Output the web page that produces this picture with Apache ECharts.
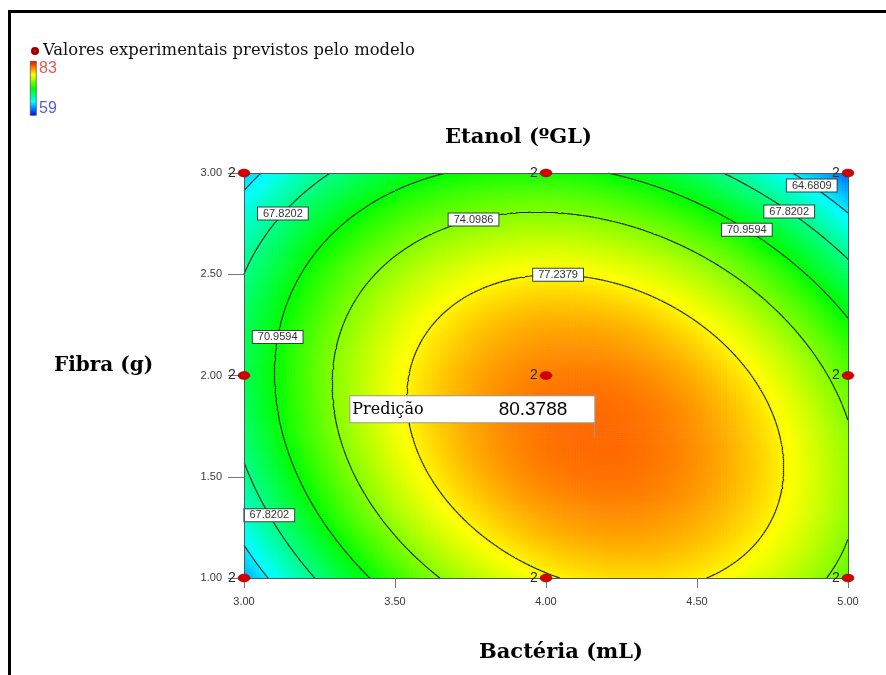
<!DOCTYPE html>
<html>
<head>
<meta charset="utf-8">
<script src="https://cdn.jsdelivr.net/npm/echarts@6/dist/echarts.min.js"></script>
<style>
  html, body { margin: 0; padding: 0; background: #fff; }
  #chart { width: 886px; height: 675px; }
</style>
</head>
<body>
<div id="chart"></div>
<script>
// Design levels: Bactéria (mL) on x, Fibra (g) on y, every run done twice
const bacteria = [3, 4, 5];
const fibra = [1, 2, 3];
const replicates = 2;

// Ethanol (ºGL) predicted by the model at each design point (rows follow fibra)
const etanolPrevisto = [
  [62.91, 77.02, 73.25],
  [69.05, 80.00, 73.07],
  [63.76, 71.57, 61.50]
];

// Contour levels drawn on the response surface
const contourLevels = [64.6809, 67.8202, 70.9594, 74.0986, 77.2379];

// Where each contour value is written: [level, bacteria, fibra], snapped onto its line
const contourTags = [
  [67.8202, 3.12, 2.81],
  [74.0986, 3.76, 2.79],
  [77.2379, 4.04, 2.52],
  [64.6809, 4.89, 2.95],
  [67.8202, 4.82, 2.84],
  [70.9594, 4.67, 2.74],
  [70.9594, 3.12, 2.19],
  [67.8202, 3.10, 1.33]
];

// Axis ticks
const xTicks = [3.00, 3.50, 4.00, 4.50, 5.00];
const yTicks = [1.00, 1.50, 2.00, 2.50, 3.00];

// Flagged prediction
const predictionPoint = [4.16, 1.69];
const predictionValue = 80.3788;

// Colour scale limits and palette (low -> high)
const colorRange = [59, 83];
const palette = ['#0000ff', '#00ffff', '#00ff00', '#ffff00', '#ff0000'];

const legendName = 'Valores experimentais previstos pelo modelo';

// ---------- design points ----------
const designPoints = [];
fibra.forEach((f, r) => bacteria.forEach((b, c) => designPoints.push([b, f, etanolPrevisto[r][c]])));

// ---------- full quadratic response surface fitted to the design points ----------
const xc = (bacteria[0] + bacteria[bacteria.length - 1]) / 2;
const yc = (fibra[0] + fibra[fibra.length - 1]) / 2;
function basis(x, y) {
  const a = x - xc, b = y - yc;
  return [1, a, b, a * b, a * a, b * b];
}
function fitSurface(points) {
  const n = 6;
  const M = Array.from({ length: n }, () => new Array(n + 1).fill(0));
  points.forEach(([x, y, z]) => {
    const f = basis(x, y);
    for (let i = 0; i < n; i++) {
      for (let j = 0; j < n; j++) M[i][j] += f[i] * f[j];
      M[i][n] += f[i] * z;
    }
  });
  for (let k = 0; k < n; k++) {
    let p = k;
    for (let i = k + 1; i < n; i++) if (Math.abs(M[i][k]) > Math.abs(M[p][k])) p = i;
    [M[k], M[p]] = [M[p], M[k]];
    for (let i = 0; i < n; i++) {
      if (i === k) continue;
      const t = M[i][k] / M[k][k];
      for (let j = k; j <= n; j++) M[i][j] -= t * M[k][j];
    }
  }
  return M.map((row, i) => row[n] / row[i]);
}
const coef = fitSurface(designPoints);
const surface = (x, y) => basis(x, y).reduce((s, f, i) => s + f * coef[i], 0);

// ---------- evaluation grid ----------
const xMin = xTicks[0], xMax = xTicks[xTicks.length - 1];
const yMin = yTicks[0], yMax = yTicks[yTicks.length - 1];
const NX = 200, NY = 200;
const dx = (xMax - xMin) / NX, dy = (yMax - yMin) / NY;

const cells = [];
for (let j = 0; j < NY; j++) {
  for (let i = 0; i < NX; i++) {
    const x = xMin + (i + 0.5) * dx, y = yMin + (j + 0.5) * dy;
    cells.push([x, y, surface(x, y)]);
  }
}
const node = [];
for (let j = 0; j <= NY; j++) {
  const row = [];
  for (let i = 0; i <= NX; i++) row.push(surface(xMin + i * dx, yMin + j * dy));
  node.push(row);
}

// ---------- marching squares ----------
function isoSegments(level) {
  const segs = [];
  const cross = (x0, y0, v0, x1, y1, v1) => {
    const t = (level - v0) / (v1 - v0);
    return [x0 + t * (x1 - x0), y0 + t * (y1 - y0)];
  };
  for (let j = 0; j < NY; j++) {
    for (let i = 0; i < NX; i++) {
      const x0 = xMin + i * dx, x1 = x0 + dx, y0 = yMin + j * dy, y1 = y0 + dy;
      const a = node[j][i], b = node[j][i + 1], c = node[j + 1][i + 1], d = node[j + 1][i];
      const pts = [];
      if ((a < level) !== (b < level)) pts.push(cross(x0, y0, a, x1, y0, b));
      if ((b < level) !== (c < level)) pts.push(cross(x1, y0, b, x1, y1, c));
      if ((d < level) !== (c < level)) pts.push(cross(x0, y1, d, x1, y1, c));
      if ((a < level) !== (d < level)) pts.push(cross(x0, y0, a, x0, y1, d));
      if (pts.length === 2) segs.push([pts[0], pts[1]]);
      else if (pts.length === 4) {
        const centre = (a + b + c + d) / 4;
        if ((centre < level) === (a < level)) segs.push([pts[0], pts[1]], [pts[2], pts[3]]);
        else segs.push([pts[0], pts[3]], [pts[1], pts[2]]);
      }
    }
  }
  return segs;
}
const isoByLevel = new Map();
contourLevels.forEach(l => isoByLevel.set(l, isoSegments(l)));
const contourLines = [];
isoByLevel.forEach(segs => segs.forEach(s => contourLines.push({ coords: s })));

// contour tags placed on the nearest point of their own line
const tagData = contourTags.map(([level, x, y]) => {
  let best = [x, y], bd = Infinity;
  const sx = 1 / (xMax - xMin), sy = 0.67 / (yMax - yMin);
  isoByLevel.get(level).forEach(seg => seg.forEach(p => {
    const d = ((p[0] - x) * sx) ** 2 + ((p[1] - y) * sy) ** 2;
    if (d < bd) { bd = d; best = p; }
  }));
  return [best[0], best[1], level];
});

// ---------- chart ----------
const chart = echarts.init(document.getElementById('chart'));
const serifBold = { fontFamily: 'DejaVu Serif', fontWeight: 'bold', fontSize: 21, color: '#000' };
const axisLabelStyle = { fontFamily: 'Liberation Sans', fontSize: 11, color: '#3a3a3a' };
const ellipse = 'path://M0,5A5,5 0 1,1 10,5A5,5 0 1,1 0,5Z';

const option = {
  animation: false,
  backgroundColor: '#fff',
  title: [
    { text: 'Etanol (ºGL)', left: 440, top: 122, textStyle: serifBold },
    { text: 'Fibra (g)', left: 49, top: 351, textStyle: Object.assign({}, serifBold, { fontSize: 20 }) },
    { text: 'Bactéria (mL)', left: 474, top: 637, textStyle: serifBold }
  ],
  legend: {
    left: 26, top: 38,
    data: [{ name: legendName, icon: 'circle' }],
    itemWidth: 6, itemHeight: 6, itemGap: 4,
    textStyle: { fontFamily: 'DejaVu Serif', fontSize: 16.4, color: '#111' }
  },
  grid: { left: 244, right: 38, top: 173, bottom: 97 },
  xAxis: [
    {
      type: 'value', min: xMin, max: xMax, interval: 0.5, z: 4,
      axisLine: { show: true, onZero: false, lineStyle: { color: '#4a5c5c', width: 1 } },
      axisTick: { show: true, length: 10, lineStyle: { color: '#777' } },
      axisLabel: Object.assign({ margin: 18, formatter: v => v.toFixed(2) }, axisLabelStyle),
      splitLine: { show: false }
    },
    {
      type: 'value', min: xMin, max: xMax, position: 'top', z: 4,
      axisLine: { show: true, onZero: false, lineStyle: { color: '#4a5c5c', width: 1 } },
      axisTick: { show: false }, axisLabel: { show: false }, splitLine: { show: false }
    }
  ],
  yAxis: [
    {
      type: 'value', min: yMin, max: yMax, interval: 0.5, z: 4,
      axisLine: { show: true, onZero: false, lineStyle: { color: '#4a5c5c', width: 1 } },
      axisTick: { show: true, length: 16, lineStyle: { color: '#777' } },
      axisLabel: Object.assign({ margin: 22, formatter: v => v.toFixed(2) }, axisLabelStyle),
      splitLine: { show: false }
    },
    {
      type: 'value', min: yMin, max: yMax, position: 'right', z: 4,
      axisLine: { show: true, onZero: false, lineStyle: { color: '#4a5c5c', width: 1 } },
      axisTick: { show: false }, axisLabel: { show: false }, splitLine: { show: false }
    }
  ],
  visualMap: {
    type: 'continuous', show: false, seriesIndex: 0, dimension: 2,
    min: colorRange[0], max: colorRange[1],
    inRange: { color: palette }
  },
  graphic: [
    // page frame
    { type: 'rect', left: 8, top: 10, shape: { width: 878, height: 3 }, style: { fill: '#000' } },
    { type: 'rect', left: 8, top: 10, shape: { width: 3, height: 665 }, style: { fill: '#000' } },
    // colour key
    {
      type: 'rect', left: 30, top: 61, shape: { width: 6, height: 54 },
      style: {
        fill: new echarts.graphic.LinearGradient(0, 0, 0, 1,
          palette.slice().reverse().map((c, i, arr) => ({ offset: i / (arr.length - 1), color: c }))),
        stroke: '#333', lineWidth: 0.6
      }
    },
    { type: 'text', left: 39, top: 61, style: { text: String(colorRange[1]), fill: '#e25b5b', font: '16px "Liberation Sans"' } },
    { type: 'text', left: 39, top: 101, style: { text: String(colorRange[0]), fill: '#5b5be2', font: '16px "Liberation Sans"' } }
  ],
  series: [
    {
      type: 'custom',
      name: 'superficie',
      coordinateSystem: 'cartesian2d',
      data: cells,
      encode: { x: 0, y: 1 },
      progressive: 0,
      silent: true,
      z: 1,
      renderItem: (params, api) => {
        const p0 = api.coord([api.value(0) - dx / 2, api.value(1) + dy / 2]);
        const p1 = api.coord([api.value(0) + dx / 2, api.value(1) - dy / 2]);
        return {
          type: 'rect',
          shape: { x: p0[0], y: p0[1], width: p1[0] - p0[0] + 0.6, height: p1[1] - p0[1] + 0.6 },
          style: { fill: api.visual('color') }
        };
      }
    },
    {
      type: 'lines',
      name: 'contornos',
      coordinateSystem: 'cartesian2d',
      polyline: false,
      progressive: 0,
      silent: true,
      z: 2,
      lineStyle: { color: '#1a2a1a', width: 1.2, opacity: 1 },
      data: contourLines
    },
    {
      type: 'scatter',
      name: 'rotulos',
      symbolSize: 0,
      silent: true,
      z: 3,
      itemStyle: { opacity: 1 },
      data: tagData,
      label: {
        show: true, position: 'inside', opacity: 1,
        formatter: p => p.value[2].toFixed(4),
        fontFamily: 'Liberation Sans', fontSize: 11, color: '#333',
        backgroundColor: '#ffffff', borderColor: '#2b4636', borderWidth: 1,
        padding: [1, 5, 0, 5]
      }
    },
    {
      type: 'scatter',
      name: legendName,
      symbol: ellipse,
      symbolSize: [12, 8],
      z: 5,
      itemStyle: { color: '#d40000', borderColor: '#8a0000', borderWidth: 0.5, opacity: 1 },
      data: designPoints.map(p => [p[0], p[1]]),
      label: {
        show: true, position: 'left', distance: 2,
        formatter: () => String(replicates),
        fontFamily: 'Liberation Sans', fontSize: 14, color: '#2a2a2a'
      }
    },
    {
      type: 'scatter',
      name: 'predicao',
      symbol: 'rect',
      symbolSize: [1, 16],
      symbolOffset: [0, -8],
      z: 6,
      silent: true,
      itemStyle: { color: '#9a9a9a', opacity: 1 },
      data: [predictionPoint],
      label: {
        show: true, position: 'top', distance: 0, align: 'right', opacity: 1,
        formatter: '{a|Predição}{b|' + predictionValue.toFixed(4) + '}',
        backgroundColor: '#ffffff', borderColor: '#9a9a9a', borderWidth: 1,
        padding: [4, 27, 3, 2],
        rich: {
          a: { fontFamily: 'DejaVu Serif', fontSize: 16, color: '#000', width: 145, align: 'left' },
          b: { fontFamily: 'Liberation Sans', fontSize: 19, color: '#000', width: 70, align: 'right' }
        }
      }
    }
  ]
};
chart.setOption(option);
</script>
</body>
</html>
